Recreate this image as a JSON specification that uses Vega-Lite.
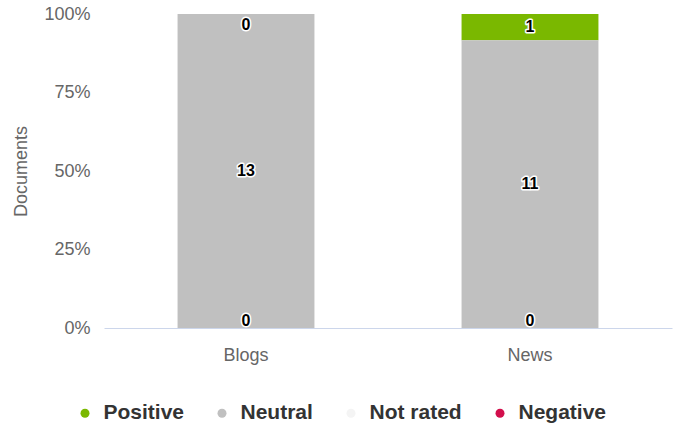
{
  "$schema": "https://vega.github.io/schema/vega-lite/v6.json",
  "width": 568,
  "height": 314,
  "autosize": {"type": "none"},
  "padding": {"left": 104, "top": 14, "right": 19, "bottom": 99},
  "background": "#ffffff",
  "data": {
    "values": [
      {"source": "Blogs", "sentiment": "Positive", "count": 0},
      {"source": "Blogs", "sentiment": "Neutral", "count": 13},
      {"source": "Blogs", "sentiment": "Not rated", "count": 0},
      {"source": "Blogs", "sentiment": "Negative", "count": 0},
      {"source": "News", "sentiment": "Positive", "count": 1},
      {"source": "News", "sentiment": "Neutral", "count": 11},
      {"source": "News", "sentiment": "Not rated", "count": 0},
      {"source": "News", "sentiment": "Negative", "count": 0}
    ]
  },
  "config": {
    "view": {"stroke": null},
    "font": "Liberation Sans",
    "axis": {
      "labelFont": "Liberation Sans",
      "labelFontSize": 18,
      "labelColor": "#666666",
      "titleFont": "Liberation Sans",
      "titleFontSize": 18,
      "titleFontWeight": "normal",
      "titleColor": "#666666",
      "grid": false,
      "ticks": false
    }
  },
  "layer": [
    {
      "mark": {"type": "bar"},
      "encoding": {
        "x": {
          "field": "source",
          "type": "nominal",
          "title": null,
          "scale": {"paddingInner": 0.518, "paddingOuter": 0.259},
          "axis": {"labelAngle": 0, "labelPadding": 18, "domainColor": "#ccd6eb", "domainWidth": 1}
        },
        "y": {
          "field": "count",
          "type": "quantitative",
          "stack": "normalize",
          "title": "Documents",
          "axis": {
            "format": "%",
            "values": [0, 0.25, 0.5, 0.75, 1],
            "domain": false,
            "labelPadding": 14,
            "titleX": -83,
            "titleY": 157,
            "titleBaseline": "middle",
            "titleAngle": -90
          }
        },
        "color": {
          "field": "sentiment",
          "type": "nominal",
          "scale": {
            "domain": ["Positive", "Neutral", "Not rated", "Negative"],
            "range": ["#7ab800", "#c0c0c0", "#f4f4f4", "#d20f4c"]
          },
          "legend": {
            "title": null,
            "orient": "none",
            "direction": "horizontal",
            "legendX": -29.5,
            "legendY": 388.5,
            "padding": 0,
            "symbolType": "circle",
            "symbolSize": 81,
            "symbolStrokeWidth": 0,
            "symbolOpacity": 1,
            "labelFont": "Liberation Sans",
            "labelFontSize": 21,
            "labelFontWeight": "bold",
            "labelColor": "#333333",
            "labelOffset": 8,
            "columnPadding": 27
          }
        },
        "order": {"field": "sentiment", "sort": "ascending"}
      }
    },
    {
      "transform": [
        {
          "stack": "count",
          "groupby": ["source"],
          "sort": [{"field": "sentiment", "order": "ascending"}],
          "offset": "normalize",
          "as": ["y0", "y1"]
        },
        {"fold": ["y0", "y1"], "as": ["edge", "pos"]},
        {
          "aggregate": [{"op": "mean", "field": "pos", "as": "mid"}],
          "groupby": ["source", "sentiment", "count"]
        },
        {"filter": "datum.sentiment !== 'Not rated'"}
      ],
      "encoding": {
        "x": {"field": "source", "type": "nominal", "title": null},
        "y": {"field": "mid", "type": "quantitative", "title": "Documents"},
        "text": {"field": "count", "type": "quantitative"}
      },
      "layer": [
        {
          "transform": [{"filter": "datum.mid > 0 && datum.mid < 1"}],
          "mark": {"type": "text", "font": "Liberation Sans", "fontSize": 16, "fontWeight": "bold", "stroke": "#ffffff", "strokeWidth": 3, "strokeJoin": "round", "fill": "#ffffff"}
        },
        {
          "transform": [{"filter": "datum.mid > 0 && datum.mid < 1"}],
          "mark": {"type": "text", "font": "Liberation Sans", "fontSize": 16, "fontWeight": "bold", "fill": "#000000"}
        },
        {
          "transform": [{"filter": "datum.mid >= 1"}],
          "mark": {"type": "text", "dy": 11, "font": "Liberation Sans", "fontSize": 16, "fontWeight": "bold", "stroke": "#ffffff", "strokeWidth": 3, "strokeJoin": "round", "fill": "#ffffff"}
        },
        {
          "transform": [{"filter": "datum.mid >= 1"}],
          "mark": {"type": "text", "dy": 11, "font": "Liberation Sans", "fontSize": 16, "fontWeight": "bold", "fill": "#000000"}
        },
        {
          "transform": [{"filter": "datum.mid <= 0"}],
          "mark": {"type": "text", "dy": -7, "font": "Liberation Sans", "fontSize": 16, "fontWeight": "bold", "stroke": "#ffffff", "strokeWidth": 3, "strokeJoin": "round", "fill": "#ffffff"}
        },
        {
          "transform": [{"filter": "datum.mid <= 0"}],
          "mark": {"type": "text", "dy": -7, "font": "Liberation Sans", "fontSize": 16, "fontWeight": "bold", "fill": "#000000"}
        }
      ]
    }
  ]
}
